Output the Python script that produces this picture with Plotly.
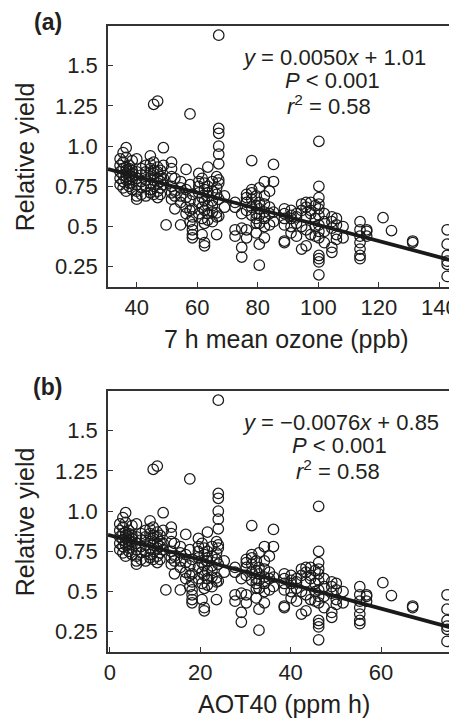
import plotly.graph_objects as go

# ---- data ----
ozone_levels = [34.5, 35.5, 36.5, 37.5, 38.5, 40.0, 41.5, 43.0, 44.5, 45.6, 46.9, 47.8, 48.8, 49.7,
                51.5, 52.6, 54.5, 56.3, 57.6, 58.4, 60.5, 61.6, 62.4, 63.5, 65.0, 66.4, 67.1, 69.0,
                72.5, 74.7, 76.3, 78.0, 79.5, 80.5, 82.2, 83.9, 85.2, 88.8, 91.0, 92.8, 94.5, 96.0,
                97.5, 99.0, 100.2, 102.0, 104.5, 106.0, 108.2, 113.8, 116.0, 121.4, 124.2, 131.2, 142.6]
aot40_levels = [2.2, 2.9, 3.5, 4.2, 4.9, 5.9, 6.9, 7.9, 8.9, 9.6, 10.5, 11.1, 11.8, 12.4,
                13.6, 14.3, 15.6, 16.8, 17.7, 18.2, 19.6, 20.4, 20.9, 21.6, 22.6, 23.6, 24.0, 25.3,
                27.7, 29.1, 30.2, 31.4, 32.4, 33.0, 34.2, 35.3, 36.2, 38.6, 40.1, 41.3, 42.4, 43.4,
                44.4, 45.4, 46.2, 47.4, 49.1, 50.1, 51.6, 55.3, 56.8, 60.4, 62.3, 67.0, 74.6]
yield_groups = [
    [0.92, 0.88, 0.84, 0.80, 0.76],
    [0.96, 0.90, 0.86, 0.82, 0.78, 0.74],
    [0.99, 0.93, 0.87, 0.85, 0.83, 0.81, 0.79, 0.72],
    [0.88, 0.86, 0.84, 0.82, 0.80, 0.77, 0.75],
    [0.91, 0.85, 0.83, 0.81, 0.79, 0.73],
    [0.92, 0.84, 0.80, 0.76, 0.72, 0.69, 0.67],
    [0.86, 0.82, 0.78, 0.74, 0.70],
    [0.88, 0.84, 0.79, 0.75, 0.69],
    [0.94, 0.89, 0.86, 0.81, 0.77, 0.73, 0.71],
    [1.26, 0.90, 0.85, 0.83, 0.79, 0.75, 0.70],
    [1.28, 0.87, 0.84, 0.80, 0.77, 0.72, 0.68],
    [0.85, 0.81, 0.78, 0.74, 0.70],
    [0.99, 0.88, 0.80, 0.76],
    [0.51],
    [0.90, 0.86, 0.81, 0.75, 0.71, 0.67],
    [0.80, 0.72, 0.69, 0.61],
    [0.78, 0.74, 0.69, 0.65, 0.51],
    [0.855, 0.73, 0.68, 0.62, 0.58],
    [1.20, 0.76, 0.66, 0.60, 0.53],
    [0.70, 0.61, 0.56, 0.51, 0.48, 0.45, 0.43],
    [0.83, 0.78, 0.75, 0.71, 0.65, 0.58],
    [0.80, 0.68, 0.62, 0.55, 0.45],
    [0.77, 0.73, 0.66, 0.60, 0.52, 0.40, 0.38],
    [0.87, 0.75, 0.71, 0.69, 0.63, 0.58, 0.54],
    [0.78, 0.72, 0.66, 0.63, 0.59, 0.53],
    [0.81, 0.74, 0.70, 0.585, 0.56, 0.45],
    [1.69, 1.11, 1.08, 1.00, 0.95, 0.89, 0.79, 0.77, 0.67, 0.565],
    [0.69, 0.62],
    [0.65, 0.62, 0.48, 0.44],
    [0.58, 0.49, 0.37, 0.31],
    [0.70, 0.68, 0.65, 0.60, 0.48, 0.43],
    [0.91, 0.73, 0.71, 0.67, 0.62, 0.57],
    [0.69, 0.63, 0.58, 0.55, 0.52, 0.46],
    [0.74, 0.65, 0.61, 0.57, 0.52, 0.39, 0.26],
    [0.78, 0.69, 0.64, 0.59, 0.55, 0.50, 0.43],
    [0.72, 0.62, 0.58, 0.51],
    [0.886, 0.78, 0.59, 0.53],
    [0.61, 0.58, 0.55, 0.51, 0.41, 0.40],
    [0.60, 0.57, 0.55, 0.50, 0.46],
    [0.58, 0.56, 0.52, 0.44],
    [0.64, 0.60, 0.50, 0.36],
    [0.65, 0.62, 0.56, 0.48, 0.38],
    [0.65, 0.60, 0.58, 0.45],
    [0.63, 0.55, 0.50, 0.44],
    [1.03, 0.75, 0.68, 0.64, 0.61, 0.57, 0.51, 0.47, 0.43, 0.32, 0.30, 0.28, 0.20],
    [0.58, 0.53, 0.47, 0.40],
    [0.56, 0.53, 0.49, 0.37, 0.34],
    [0.55, 0.51, 0.45, 0.42],
    [0.50, 0.43],
    [0.53, 0.48, 0.44, 0.40, 0.36, 0.32, 0.30],
    [0.48, 0.47, 0.44],
    [0.555],
    [0.475],
    [0.41, 0.40],
    [0.48, 0.39, 0.32, 0.285, 0.265, 0.19],
]
fit_slopes = [-0.0050, -0.0076]
fit_intercepts = [1.01, 0.85]
x_ranges = [[30.5, 144.2], [-0.4, 75.7]]
y_range = [0.124, 1.747]
x_tickvals = [[40, 60, 80, 100, 120, 140], [0, 20, 40, 60]]
y_tickvals = [0.25, 0.5, 0.75, 1.0, 1.25, 1.5]
y_ticktext = ["0.25", "0.5", "0.75", "1.0", "1.25", "1.5"]
x_titles = ["7 h mean ozone (ppb)", "AOT40 (ppm h)"]
panel_labels = ["(a)", "(b)"]
eq_texts = ["<i>y</i> = 0.0050<i>x</i> + 1.01", "<i>y</i> = \u22120.0076<i>x</i> + 0.85"]
p_text = "<i>P</i> < 0.001"
r_text = "<i>r</i><sup>2</sup> = 0.58"

# ---- flatten ----
ozone, aot40, yields = [], [], []
for oz, ao, grp in zip(ozone_levels, aot40_levels, yield_groups):
    for v in grp:
        ozone.append(oz)
        aot40.append(ao)
        yields.append(v)

# the page body has an 8px default margin; lay out in page pixels and shift
OFF = 8
W, H = 457 - OFF, 718 - OFF
L = 108 - OFF
T = 26 - OFF
B = H - (652 - OFF)
R = 0
plot_h = H - T - B
FONT = "Liberation Sans, Arial, Helvetica, sans-serif"
TXT = "#231f20"

def py2paper(py):
    return (H - B - (py - OFF)) / plot_h

def px2paper(px):
    return ((px - OFF) - L) / (W - L - R)

fig = go.Figure()
xs_all = [ozone, aot40]
axes = [("x", "y"), ("x2", "y2")]
for i in range(2):
    xa, ya = axes[i]
    fig.add_trace(go.Scatter(
        x=xs_all[i], y=yields, mode="markers", xaxis=xa, yaxis=ya,
        marker=dict(symbol="circle-open", size=10.5, color="#1a1a1a", line=dict(width=1.25)),
        showlegend=False, cliponaxis=False))
    lx = x_ranges[i]
    ly = [fit_slopes[i] * v + fit_intercepts[i] for v in lx]
    fig.add_trace(go.Scatter(
        x=lx, y=ly, mode="lines", xaxis=xa, yaxis=ya,
        line=dict(color="#1a1a1a", width=3.8), showlegend=False))

top_px = [26, 391]
bot_px = [287, 652]
common_axis = dict(showline=True, linecolor="#333333", linewidth=1.5, ticks="inside",
                   ticklen=5, tickwidth=1.3, tickcolor="#333333", showgrid=False, zeroline=False,
                   tickfont=dict(family=FONT, size=22, color=TXT))
for i in range(2):
    dom_y = [py2paper(bot_px[i]), py2paper(top_px[i])]
    xname = "xaxis" if i == 0 else "xaxis2"
    yname = "yaxis" if i == 0 else "yaxis2"
    anchor_y = "y" if i == 0 else "y2"
    anchor_x = "x" if i == 0 else "x2"
    fig.layout[xname] = dict(common_axis, domain=[0, 1], anchor=anchor_y, range=x_ranges[i],
                             tickvals=x_tickvals[i], mirror=True, ticklabeloverflow="allow",
                             ticklabelstandoff=0)
    fig.layout[yname] = dict(common_axis, domain=dom_y, anchor=anchor_x, range=y_range,
                             tickvals=y_tickvals, ticktext=y_ticktext, ticklabelstandoff=4)

ann = []
off = [0, 365]
for i in range(2):
    o = off[i]
    ann.append(dict(text="<b>" + panel_labels[i] + "</b>", x=px2paper(47), y=py2paper(22 + o),
                    font=dict(size=23, family=FONT, color=TXT)))
    ann.append(dict(text="Relative yield", x=px2paper(24), y=py2paper(157 + o), textangle=-90,
                    font=dict(size=25, family=FONT, color=TXT)))
    ann.append(dict(text=x_titles[i], x=px2paper(289 if i == 0 else 287), y=py2paper(339 + o),
                    font=dict(size=25, family=FONT, color=TXT)))
    cx = [337, 344][i]
    ann.append(dict(text=eq_texts[i], x=px2paper(cx), y=py2paper(57 + o),
                    font=dict(size=22, family=FONT, color=TXT)))
    ann.append(dict(text=p_text, x=px2paper([336, 343][i]), y=py2paper(80 + o),
                    font=dict(size=22, family=FONT, color=TXT)))
    ann.append(dict(text=r_text, x=px2paper([332, 341][i]), y=py2paper(105 + o),
                    font=dict(size=22, family=FONT, color=TXT)))
for a in ann:
    a.update(xref="paper", yref="paper", showarrow=False, xanchor="center", yanchor="middle")

fig.update_layout(width=W, height=H, margin=dict(l=L, r=R, t=T, b=B, pad=0),
                  paper_bgcolor="white", plot_bgcolor="white", annotations=ann,
                  font=dict(family=FONT, color=TXT))
fig.write_html("out.html")
